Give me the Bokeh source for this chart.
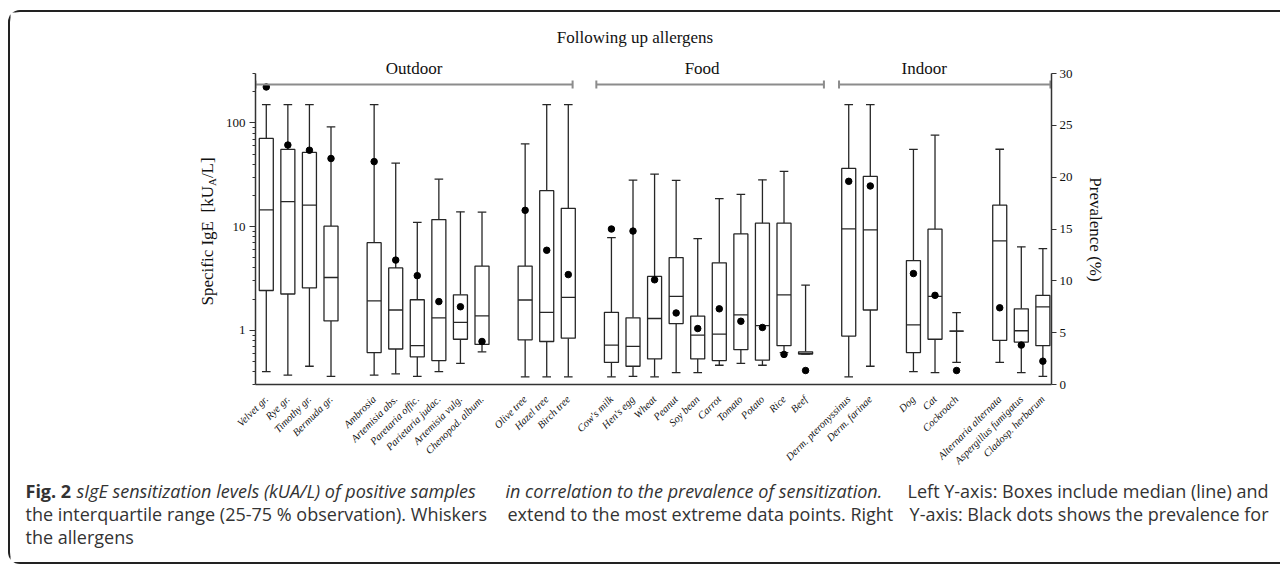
import math
from bokeh.plotting import figure
from bokeh.layouts import column, row
from bokeh.models import (Range1d, LinearAxis, LinearScale, FixedTicker, Label,
                          PrintfTickFormatter, ColumnDataSource)
from bokeh.embed import file_html
from bokeh.resources import INLINE

# ---------------- data ----------------
subgroups = [
    ["Velvet gr.", "Rye gr.", "Timothy gr.", "Bermuda gr."],
    ["Ambrosia", "Artemisia abs.", "Paretaria offic.", "Parietaria judac.", "Artemisia vulg.", "Chenopod. album."],
    ["Olive tree", "Hazel tree", "Birch tree"],
    ["Cow's milk", "Hen's egg", "Wheat", "Peanut", "Soy bean", "Carrot", "Tomato", "Potato", "Rice", "Beef"],
    ["Derm. pteronyssinus", "Derm. farinae"],
    ["Dog", "Cat", "Cockroach"],
    ["Alternaria alternata", "Aspergillus fumigatus", "Cladosp. herbarum"],
]
groups = ["Outdoor", "Food", "Indoor"]
group_members = [[0, 1, 2], [3], [4, 5, 6]]

low = [0.40, 0.37, 0.45, 0.36,
       0.37, 0.38, 0.36, 0.40, 0.48, 0.62,
       0.356, 0.356, 0.356,
       0.356, 0.36, 0.356, 0.39, 0.39, 0.46, 0.48, 0.46, 0.61, 0.59,
       0.356, 0.45,
       0.40, 0.39, 0.49,
       0.49, 0.39, 0.36]
q1 = [2.42, 2.24, 2.56, 1.23,
      0.61, 0.66, 0.555, 0.51, 0.82, 0.73,
      0.81, 0.78, 0.84,
      0.49, 0.45, 0.53, 1.16, 0.53, 0.51, 0.65, 0.515, 0.71, 0.59,
      0.88, 1.57,
      0.61, 0.82, 0.98,
      0.80, 0.77, 0.71]
median = [14.5, 17.4, 16.1, 3.23,
          1.92, 1.57, 0.71, 1.32, 1.19, 1.38,
          1.96, 1.49, 2.08,
          0.72, 0.70, 1.30, 2.12, 0.90, 0.92, 1.41, 1.11, 2.2, 0.60,
          9.5, 9.3,
          1.13, 2.12, 0.98,
          7.3, 0.99, 1.68]
q3 = [71.0, 55.5, 52.0, 10.1,
      7.0, 4.0, 1.97, 11.7, 2.2, 4.16,
      4.16, 22.2, 15.0,
      1.49, 1.32, 3.31, 5.03, 1.37, 4.48, 8.5, 10.8, 10.8, 0.62,
      36.4, 30.5,
      4.71, 9.44, 0.98,
      16.1, 1.61, 2.17]
high = [150, 150, 150, 91.5,
        150, 41.0, 11.0, 28.7, 13.9, 13.8,
        62.8, 150, 150,
        7.84, 28.1, 32.1, 27.9, 7.67, 18.6, 20.5, 28.3, 34.1, 2.73,
        150, 150,
        55.5, 76.2, 1.48,
        55.8, 6.38, 6.14]
prevalence = [28.7, 23.1, 22.6, 21.8,
              21.5, 12.0, 10.5, 8.0, 7.5, 4.15,
              16.8, 12.95, 10.6,
              15.0, 14.8, 10.1, 6.9, 5.4, 7.3, 6.1, 5.5, 2.9, 1.35,
              19.6, 19.15,
              10.7, 8.6, 1.35,
              7.4, 3.8, 2.25]
left_ticks = [1, 10, 100]
right_ticks = [0, 5, 10, 15, 20, 25, 30]

title_text = "Following up allergens"
ylabel_parts = ["Specific IgE", "[kU", "A", "/L]"]
y2label = "Prevalence (%)"
caption = [
    ("bold", "Fig. 2"),
    ("italic", "sIgE sensitization levels (kUA/L) of positive samples"),
    ("italic", "in correlation to the prevalence of sensitization."),
    ("normal", "Left Y-axis: Boxes include median (line) and"),
    ("normal", "the interquartile range (25-75 % observation). Whiskers"),
    ("normal", "extend to the most extreme data points. Right"),
    ("normal", "Y-axis: Black dots shows the prevalence for"),
    ("normal", "the allergens"),
]

# ---------------- layout (page pixels) ----------------
OX, OY = 10, 12                      # content origin inside the CSS frame
TOTAL_W = 1270
TOP_Y1 = 50                          # top panel: OY .. TOP_Y1
FL, FR, FT, FB = 254, 1051, 73, 384  # plot frame, page px
MID_Y1 = 480                         # middle row: TOP_Y1 .. MID_Y1
BOT_Y1 = 562
LEFT_X1, MAIN_X1 = 222, 1075
X0, X1 = 0.5, 37.4
YLO, YHI = 0.3, 300.0
SERIF = "Liberation Serif"
SANS = "Open Sans"
TC = "#111111"

BT, BB = FT - TOP_Y1, MID_Y1 - FB     # main frame top/bottom borders
MID_H = MID_Y1 - TOP_Y1


def py2prev(py):
    return (FB - py) / (FB - FT) * 30.0


names, pos, sub_pos = [], [], []
slot = 1
for sg in subgroups:
    cur = []
    for n in sg:
        names.append(n)
        pos.append(slot)
        cur.append(slot)
        slot += 1
    sub_pos.append(cur)
    slot += 1

# ---------------- main chart ----------------
BOXW, CAPW = 0.65, 0.4
src = ColumnDataSource(dict(
    x=pos, low=low, q1=q1, med=median, q3=q3, high=high, prev=prevalence,
    xl=[v - BOXW / 2 for v in pos], xr=[v + BOXW / 2 for v in pos],
    cl=[v - CAPW / 2 for v in pos], cr=[v + CAPW / 2 for v in pos],
))

p = figure(width=MAIN_X1 - LEFT_X1, height=MID_H, x_range=Range1d(X0, X1),
           y_range=Range1d(YLO, YHI), y_axis_type="log", output_backend="svg",
           toolbar_location=None, title=None,
           min_border_left=FL - LEFT_X1, min_border_right=MAIN_X1 - FR,
           min_border_top=BT, min_border_bottom=BB)
p.extra_y_ranges = {"prev": Range1d(0, 30)}
p.extra_y_scales = {"prev": LinearScale()}
p.outline_line_color = None
p.xgrid.grid_line_color = None
p.ygrid.grid_line_color = None

LC = "#262626"
LW = 1.3
p.segment(x0="x", y0="q3", x1="x", y1="high", source=src, line_color=LC, line_width=LW)
p.segment(x0="x", y0="low", x1="x", y1="q1", source=src, line_color=LC, line_width=LW)
p.segment(x0="cl", y0="high", x1="cr", y1="high", source=src, line_color=LC, line_width=LW)
p.segment(x0="cl", y0="low", x1="cr", y1="low", source=src, line_color=LC, line_width=LW)
p.vbar(x="x", width=BOXW, bottom="q1", top="q3", source=src, fill_color="white",
       line_color=LC, line_width=LW)
p.segment(x0="xl", y0="med", x1="xr", y1="med", source=src, line_color=LC, line_width=LW)
p.scatter(x="x", y="prev", source=src, y_range_name="prev", size=6.5,
          fill_color="black", line_color="black")

# left (log) axis
ya = p.left[0]
ya.ticker = FixedTicker(ticks=left_ticks,
                        minor_ticks=[m * d for d in (0.1, 1, 10, 100) for m in range(2, 10)
                                     if YLO <= m * d <= YHI])
ya.formatter = PrintfTickFormatter(format="%d")
ya.major_label_text_font = SERIF
ya.major_label_text_font_size = "13px"
ya.major_label_text_color = TC
ya.major_tick_out = 6
ya.major_tick_in = 0
ya.minor_tick_out = 3
ya.minor_tick_in = 0
ya.axis_line_width = 1.5
ya.axis_line_color = "#333"
ya.major_tick_line_color = "#333"
ya.minor_tick_line_color = "#333"
ya.major_label_standoff = 4

# bottom category axis
xa = p.below[0]
xa.ticker = FixedTicker(ticks=pos, minor_ticks=[])
xa.major_label_overrides = {v: n for v, n in zip(pos, names)}
xa.major_label_orientation = math.pi / 4
xa.major_label_text_font = SERIF
xa.major_label_text_font_style = "italic"
xa.major_label_text_font_size = "10.5px"
xa.major_label_text_color = TC
xa.major_tick_line_color = None
xa.minor_tick_line_color = None
xa.major_tick_out = 0
xa.major_tick_in = 0
xa.axis_line_width = 1.5
xa.axis_line_color = "#333"
xa.major_label_standoff = 13

# right prevalence axis
ax2 = LinearAxis(y_range_name="prev", ticker=FixedTicker(ticks=right_ticks, minor_ticks=[]))
ax2.major_label_text_font = SERIF
ax2.major_label_text_font_size = "13px"
ax2.major_label_text_color = TC
ax2.major_tick_out = 5
ax2.major_tick_in = 0
ax2.minor_tick_line_color = None
ax2.axis_line_width = 1.5
ax2.axis_line_color = "#333"
ax2.major_tick_line_color = "#333"
ax2.major_label_standoff = 3
p.add_layout(ax2, "right")

# group brackets + group names (names via a top axis)
pads = [(0.5, 0.2), (0.7, 0.85), (0.45, 0.35)]
label_shift = [0.0, -0.37, -0.95]
by = py2prev(84)
bh = py2prev(80) - by
group_ticks = []
for mem, (pl, pr), sh in zip(group_members, pads, label_shift):
    a = sub_pos[mem[0]][0] - pl
    b = sub_pos[mem[-1]][-1] + pr
    p.segment(x0=[a, a, b], y0=[by, by - bh, by - bh], x1=[b, a, b], y1=[by, by + bh, by + bh],
              y_range_name="prev", line_color="#8c8c8c", line_width=2)
    group_ticks.append(round((a + b) / 2 + sh, 3))

gax = LinearAxis(ticker=FixedTicker(ticks=group_ticks, minor_ticks=[]))
gax.major_label_overrides = {t: g for t, g in zip(group_ticks, groups)}
gax.axis_line_color = None
gax.major_tick_line_color = None
gax.minor_tick_line_color = None
gax.major_tick_out = 0
gax.major_tick_in = 0
gax.major_label_text_font = SERIF
gax.major_label_text_font_size = "17px"
gax.major_label_text_color = TC
gax.major_label_standoff = -4
p.add_layout(gax, "above")


# ---------------- surrounding panels (page-pixel coordinates) ----------------
def panel(x0, x1, y0, y1, bt=0, bb=0):
    f = figure(width=x1 - x0, height=y1 - y0, x_range=Range1d(x0, x1),
               y_range=Range1d(y1 - bb, y0 + bt),
               output_backend="svg", toolbar_location=None, title=None,
               min_border_left=0, min_border_right=0, min_border_top=bt, min_border_bottom=bb,
               x_axis_location=None, y_axis_location=None)
    f.xgrid.visible = False
    f.ygrid.visible = False
    f.outline_line_color = None
    return f


def lab(f, x, y, text, size, font=SERIF, style="normal", align="center", base="middle",
        angle=0.0, color=TC):
    f.add_layout(Label(x=x, y=y, text=text, angle=angle, text_align=align,
                       text_baseline=base, text_font=font, text_font_size=size,
                       text_font_style=style, text_color=color))


top = panel(OX, OX + TOTAL_W, OY, TOP_Y1)
lab(top, 634.5, 37, title_text, "17px")

left = panel(OX, LEFT_X1, TOP_Y1, MID_Y1, BT, BB)
ys = 305
lab(left, 207, ys, ylabel_parts[0], "17px", align="left", angle=math.pi / 2)
lab(left, 207, ys - 93, ylabel_parts[1], "17px", align="left", angle=math.pi / 2)
lab(left, 211.5, ys - 119.4, ylabel_parts[2], "11px", align="left", angle=math.pi / 2)
lab(left, 207, ys - 127.4, ylabel_parts[3], "17px", align="left", angle=math.pi / 2)

right = panel(MAIN_X1, OX + TOTAL_W, TOP_Y1, MID_Y1, BT, BB)
lab(right, 1095, 229, y2label, "17px", angle=-math.pi / 2)

bot = panel(OX, OX + TOTAL_W, MID_Y1, BOT_Y1)
cap_pos = [(25, 490, "left"), (76, 490, "left"), (505, 490, "left"), (1268, 490, "right"),
           (25, 513, "left"), (507, 513, "left"), (1268, 513, "right"), (25, 536, "left")]
for (cx, cy, al), (st, t) in zip(cap_pos, caption):
    lab(bot, cx, cy, t, "18px", font=SANS, style=st, align=al, color="#333")

layout = column(top, row(left, p, right), bot, margin=(OY - 2, 0, 0, OX - 2),
                styles={"border-top": "2px solid #222", "border-left": "2px solid #222",
                        "border-bottom": "2px solid #222",
                        "border-top-left-radius": "12px", "border-bottom-left-radius": "12px"})
open("out.html", "w").write(file_html(layout, INLINE))
